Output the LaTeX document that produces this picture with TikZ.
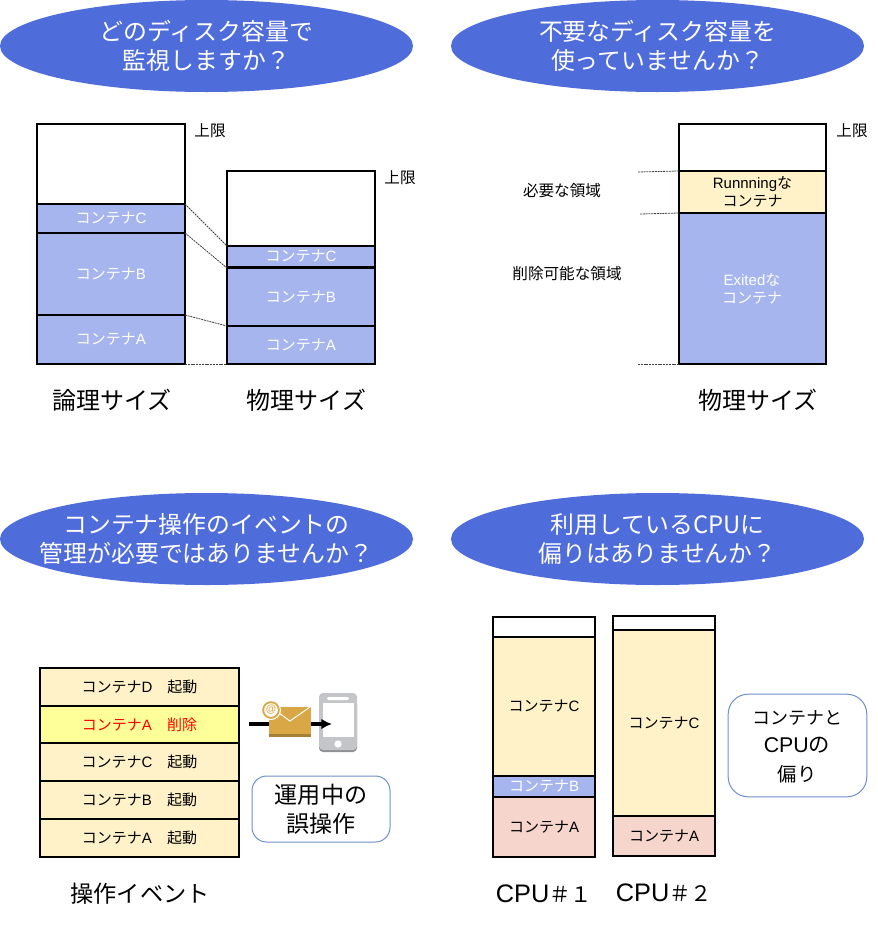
\documentclass[tikz,border=0pt]{standalone}
\usepackage{fontspec}
\setmainfont{Liberation Sans}
\newfontfamily\cjk{Noto Sans CJK JP}
\usetikzlibrary{positioning,arrows.meta,shapes.geometric}
\definecolor{titleblue}{HTML}{4F6CDB}
\definecolor{segblue}{HTML}{A6B5EE}
\definecolor{segyellow}{HTML}{FFF2C8}
\definecolor{segpink}{HTML}{F5D5CC}
\definecolor{segbright}{HTML}{FFFF99}
\definecolor{noteblue}{HTML}{6F8FCF}
\definecolor{mailgold}{HTML}{D9A745}
\definecolor{maildark}{HTML}{A5803A}
\definecolor{phonegray}{HTML}{C4C5C8}
\definecolor{phonedark}{HTML}{8F9094}
\newcommand{\ctn}[1]{{\cjk コンテナ}#1}
\newcommand{\cpuname}[1]{{\fontsize{19}{21.75}\selectfont CPU}{\fontsize{16}{21.75}\selectfont\cjk ＃#1}}
\tikzset{
    seg/.style 2 args={draw=black,line width=1.7pt,anchor=north west,inner sep=0pt,outer sep=0pt,
        minimum width=#1*0.75pt,minimum height=#2*0.75pt,font=\fontsize{11.25}{13.5}\selectfont,align=center},
    bluebox/.style={fill=segblue,text=white},
    yellowbox/.style={fill=segyellow},
    pinkbox/.style={fill=segpink},
    whitebox/.style={fill=white},
    title/.style={ellipse,fill=titleblue,inner sep=0pt,outer sep=0pt,minimum width=309.75pt,minimum height=69pt},
    titletext/.style={text=white,inner sep=0pt,font=\fontsize{17.9}{21.75}\selectfont\cjk,align=center},
    small/.style={font=\fontsize{11.7}{13}\selectfont\cjk,inner sep=0pt},
    big/.style={font=\fontsize{18}{21.75}\selectfont,inner sep=0pt,align=center},
    note/.style={draw=noteblue,line width=0.75pt,fill=white,inner sep=0pt,outer sep=0pt},
    notetext/.style={inner sep=0pt,align=center,font=\fontsize{17.3}{21.5}\selectfont},
    guide/.style={dash pattern=on 1.5pt off 0.6pt,line width=0.6pt,draw=black!75},
}
\begin{document}
\begin{tikzpicture}[x=0.75pt,y=-0.75pt]
    \useasboundingbox (0,0) rectangle (878,925);

    \node[title] at (206.5,46) (t1) {};
    \node[title] at (657.5,46) (t2) {};
    \node[title] at (206.5,539) (t3) {};
    \node[title] at (657.5,539) (t4) {};
    \node[titletext] at (206.5,46) (t1text) {どのディスク容量で\\監視しますか？};
    \node[titletext] at (657.5,46) (t2text) {不要なディスク容量を\\使っていませんか？};
    \node[titletext] at (206.5,539) (t3text) {コンテナ操作のイベントの\\管理が必要ではありませんか？};
    \node[titletext] at (657.5,539) (t4text) {利用しているCPUに\\偏りはありませんか？};

    \node[seg={148}{80},whitebox] at (37,124) (l0) {};
    \node[seg={148}{29},bluebox] at (37,204) (lc) {\ctn{C}};
    \node[seg={148}{82},bluebox] at (37,233) (lb) {\ctn{B}};
    \node[seg={148}{49},bluebox] at (37,315) (la) {\ctn{A}};
    \node[seg={148}{75},whitebox] at (227,171) (p0) {};
    \node[seg={148}{21},bluebox] at (227,246) (pc) {\ctn{C}};
    \node[seg={148}{58},bluebox] at (227,268) (pb) {\ctn{B}};
    \node[seg={148}{38},bluebox] at (227,326) (pa) {\ctn{A}};
    \draw[guide] (lc.north east) -- (pc.north west);
    \draw[guide] (lb.north east) -- (pb.north west);
    \draw[guide] (la.north east) -- (pa.north west);
    \draw[guide] (la.south east) -- (pa.south west);
    \node[small] at (210,131) (lmax) {上限};
    \node[small] at (400,178) (pmax) {上限};
    \node[big] at (112,400) (lname) {\cjk 論理サイズ};
    \node[big] at (306.5,400) (pname) {\cjk 物理サイズ};

    \node[seg={147}{47},whitebox] at (679,124) (r0) {};
    \node[seg={147}{42},yellowbox] at (679,171) (rr) {Runnning{\cjk な}\\\cjk コンテナ};
    \node[seg={147}{151},bluebox] at (679,213) (re) {};
    \node[font=\fontsize{11.25}{13}\selectfont,text=white,align=center,inner sep=0pt] at (752,289) (retext) {Exited{\cjk な}\\\cjk コンテナ};
    \coordinate (g1) at (638,172);
    \coordinate (g2) at (640,214);
    \coordinate (g3) at (638,364);
    \draw[guide] (g1) -- (rr.north west);
    \draw[guide] (g2) -- (re.north west);
    \draw[guide] (g3) -- (re.south west);
    \node[small] at (852,131) (rmax) {上限};
    \node[small] at (562,191) (need) {必要な領域};
    \node[small] at (567,274) (del) {削除可能な領域};
    \node[big] at (758,400) (rname) {\cjk 物理サイズ};

    \node[seg={199}{38},yellowbox] at (40,668) (e1) {\ctn{D}\hspace{1em}{\cjk 起動}};
    \node[seg={199}{37},fill=segbright,text=red] at (40,706) (e2) {\ctn{A}\hspace{1em}{\cjk 削除}};
    \node[seg={199}{38},yellowbox] at (40,743) (e3) {\ctn{C}\hspace{1em}{\cjk 起動}};
    \node[seg={199}{38},yellowbox] at (40,781) (e4) {\ctn{B}\hspace{1em}{\cjk 起動}};
    \node[seg={199}{38},yellowbox] at (40,819) (e5) {\ctn{A}\hspace{1em}{\cjk 起動}};
    \node[big,font=\fontsize{17.4}{21}\selectfont] at (140,894) (ename) {\cjk 操作イベント};
    \fill[phonedark,rounded corners=3pt] (319,700) rectangle (357,752);
    \fill[phonegray,rounded corners=3pt] (319,693) rectangle (357,750);
    \fill[white] (323,703) rectangle (354,737);
    \fill[white,rounded corners=1pt] (327,697) rectangle (349,700);
    \fill[white] (338,744) circle (3.6);
    \coordinate (mailfrom) at (249,724);
    \coordinate (mailto) at (332,724);
    \draw[line width=2.5pt,-{Latex[length=8pt,width=8pt]}] (mailfrom) -- (mailto);
    \fill[maildark] (269,733) rectangle (311,737);
    \fill[mailgold] (269,707) rectangle (311,733.5);
    \draw[white,line width=0.75pt] (279,713) -- (290,721) -- (310,707);
    \fill[white] (271,710) circle (10);
    \fill[mailgold] (271,710) circle (8.8);
    \fill[white] (271,710) circle (6.8);
    \node[font=\fontsize{8}{8}\selectfont\bfseries,text=mailgold,inner sep=0pt] at (271,709.5) (mailat) {@};
    \node[note,rounded corners=11pt,minimum width=103.5pt,minimum height=49.5pt] at (321,809) (n1) {};
    \node[notetext] at (321,809) (n1text) {\cjk 運用中の\\\cjk 誤操作};

    \node[seg={102}{20},whitebox] at (493,617) (c0) {};
    \node[seg={102}{139},yellowbox] at (493,637) (cc) {\ctn{C}};
    \node[seg={102}{21},bluebox] at (493,776) (cb) {\ctn{B}};
    \node[seg={102}{60},pinkbox] at (493,797) (ca) {\ctn{A}};
    \node[seg={102}{14},whitebox] at (613,616) (d0) {};
    \node[seg={102}{186},yellowbox] at (613,630) (dc) {\ctn{C}};
    \node[seg={102}{40},pinkbox] at (613,816) (da) {\ctn{A}};
    \node[big] at (544,894) (cname) {\cpuname{１}};
    \node[big] at (664,893) (dname) {\cpuname{２}};
    \node[note,rounded corners=15pt,minimum width=104pt,minimum height=77pt] at (797.5,745.5) (n2) {};
    \node[notetext] at (797,746.5) (n2text) {{\fontsize{13.5}{21.5}\selectfont\cjk コンテナと}\\{\fontsize{16}{21.5}\selectfont CPU{\cjk の}}\\{\fontsize{14.5}{21.5}\selectfont\cjk 偏り}};
\end{tikzpicture}
\end{document}
